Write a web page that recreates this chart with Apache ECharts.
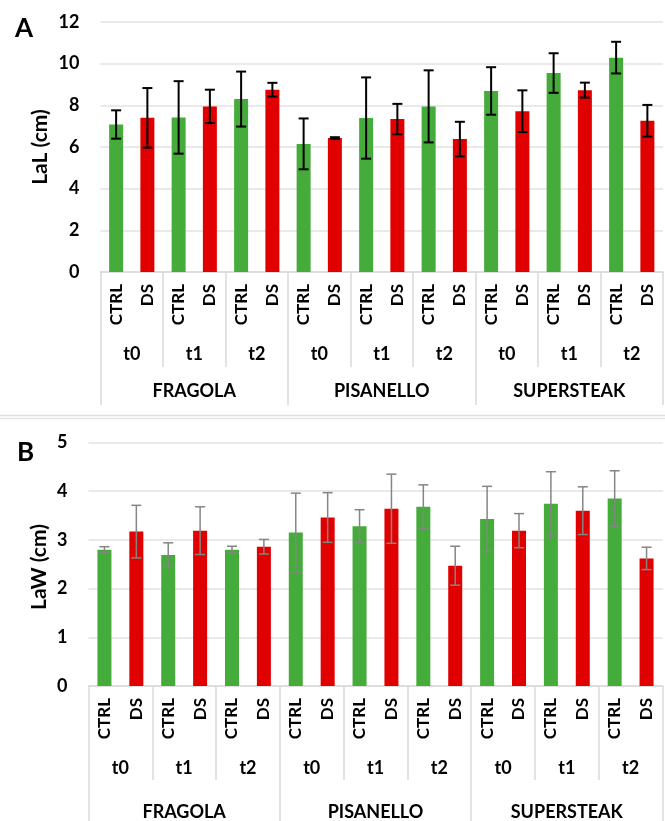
<!DOCTYPE html>
<html><head><meta charset="utf-8">
<script src="https://cdn.jsdelivr.net/npm/echarts@6/dist/echarts.min.js"></script>
<style>html,body{margin:0;padding:0;background:#fff}#c{width:665px;height:821px}</style>
</head><body><div id="c"></div>
<script>
const cultivars = ['FRAGOLA', 'PISANELLO', 'SUPERSTEAK'];
const times = ['t0', 't1', 't2'];
const treatments = ['CTRL', 'DS'];
const lalTicks = [0, 2, 4, 6, 8, 10, 12];
const lawTicks = [0, 1, 2, 3, 4, 5];
const lalTitle = 'LaL (cm)';
const lawTitle = 'LaW (cm)';
// order: cultivar > time > treatment (CTRL, DS)
const lalMean = [7.08, 7.40, 7.42, 7.95, 8.30, 8.75, 6.15, 6.43, 7.39, 7.34, 7.95, 6.38, 8.69, 7.72, 9.55, 8.73, 10.29, 7.26];
const lalErr  = [0.68, 1.43, 1.74, 0.80, 1.32, 0.33, 1.22, 0.04, 1.95, 0.73, 1.73, 0.83, 1.14, 1.00, 0.95, 0.36, 0.76, 0.76];
const lawMean = [2.80, 3.17, 2.69, 3.19, 2.80, 2.86, 3.15, 3.46, 3.28, 3.64, 3.68, 2.47, 3.43, 3.19, 3.74, 3.60, 3.85, 2.62];
const lawErr  = [0.06, 0.54, 0.25, 0.49, 0.07, 0.15, 0.81, 0.51, 0.34, 0.71, 0.45, 0.40, 0.67, 0.35, 0.66, 0.49, 0.57, 0.23];

const FONT = 'Lato';
const GREEN = '#45AB3B', RED = '#E00000', SEP = '#d9d9d9';
const colorOf = {CTRL: GREEN, DS: RED};

const lvl1 = [], lvl2 = [], lvl3 = [];
cultivars.forEach(c => {
  lvl3.push(c);
  times.forEach(t => {
    lvl2.push(c + '|' + t);
    treatments.forEach(tr => lvl1.push(c + '|' + t + '|' + tr));
  });
});
const last = s => s.split('|').pop();

function xAxes(gridIndex, tLen, cLen) {
  return [
    {type: 'category', gridIndex, position: 'bottom', data: lvl1,
     axisLine: {show: true, lineStyle: {color: SEP, width: 1.5}},
     axisTick: {show: false},
     axisLabel: {interval: 0, rotate: 90, margin: 12, formatter: last,
       fontFamily: FONT, fontSize: 17, fontWeight: 'bold', color: '#000'}},
    {type: 'category', gridIndex, position: 'bottom', data: lvl2,
     axisLine: {show: false},
     axisTick: {show: true, length: tLen, lineStyle: {color: SEP, width: 1.5}},
     axisLabel: {interval: 0, margin: 73, formatter: last,
       fontFamily: FONT, fontSize: 18, fontWeight: 'bold', color: '#000'}},
    {type: 'category', gridIndex, position: 'bottom', data: lvl3,
     axisLine: {show: false},
     axisTick: {show: true, length: cLen, lineStyle: {color: SEP, width: 1.5}},
     axisLabel: {interval: 0, margin: cLen - 23,
       fontFamily: FONT, fontSize: 18, fontWeight: 'bold', color: '#000'}}
  ];
}

function yAxis(gridIndex, ticks) {
  return {type: 'value', gridIndex, min: ticks[0], max: ticks[ticks.length - 1],
    interval: ticks[1] - ticks[0],
    axisLine: {show: false}, axisTick: {show: false},
    splitLine: {lineStyle: {color: '#e2e2e2', width: 1.5}},
    axisLabel: {margin: 21, fontFamily: FONT, fontSize: 18, fontWeight: 'bold', color: '#000'}};
}

function errRender(color, lw, half) {
  return function (params, api) {
    const x = api.value(0), m = api.value(1), e = api.value(2);
    const t = api.coord([x, m + e]), b = api.coord([x, m - e]);
    const st = {stroke: color, lineWidth: lw};
    return {type: 'group', children: [
      {type: 'line', shape: {x1: t[0], y1: t[1], x2: b[0], y2: b[1]}, style: st},
      {type: 'line', shape: {x1: t[0] - half, y1: t[1], x2: t[0] + half, y2: t[1]}, style: st},
      {type: 'line', shape: {x1: b[0] - half, y1: b[1], x2: b[0] + half, y2: b[1]}, style: st}
    ]};
  };
}

function barData(means) {
  return means.map((v, i) => ({value: v, itemStyle: {color: colorOf[last(lvl1[i])]}}));
}
function errData(means, errs) {
  return means.map((v, i) => [i, v, errs[i]]);
}
function vTitle(text, x, y) {
  return {type: 'text', x, y, rotation: Math.PI / 2,
    style: {text, fontFamily: FONT, fontSize: 21, fontWeight: 'bold', fill: '#000',
      align: 'center', verticalAlign: 'middle'}};
}

const option = {
  animation: false,
  backgroundColor: '#fff',
  title: [
    {text: 'A', left: 10, top: 11, textStyle: {fontFamily: FONT, fontSize: 26, fontWeight: 'bold', color: '#000'}},
    {text: 'B', left: 12, top: 435, textStyle: {fontFamily: FONT, fontSize: 26, fontWeight: 'bold', color: '#000'}}
  ],
  graphic: [
    {type: 'line', shape: {x1: 0, y1: 415.5, x2: 665, y2: 415.5}, style: {stroke: '#e0e0e0', lineWidth: 1.5}},
    {type: 'line', shape: {x1: 0, y1: 418.5, x2: 665, y2: 418.5}, style: {stroke: '#e6e6e6', lineWidth: 1.5}},
    vTitle(lalTitle, 40, 147),
    vTitle(lawTitle, 39, 567)
  ],
  grid: [
    {left: 100.5, right: 2, top: 22, bottom: 549},
    {left: 88.5, right: 2.5, top: 442.5, bottom: 128.5}
  ],
  xAxis: [...xAxes(0, 95, 133), ...xAxes(1, 94, 140)],
  yAxis: [yAxis(0, lalTicks), yAxis(1, lawTicks)],
  series: [
    {type: 'bar', xAxisIndex: 0, yAxisIndex: 0, barWidth: 14, data: barData(lalMean)},
    {type: 'custom', xAxisIndex: 0, yAxisIndex: 0, renderItem: errRender('#000', 2, 5), data: errData(lalMean, lalErr), z: 5},
    {type: 'bar', xAxisIndex: 3, yAxisIndex: 1, barWidth: 14, data: barData(lawMean)},
    {type: 'custom', xAxisIndex: 3, yAxisIndex: 1, renderItem: errRender('#858585', 1.5, 5), data: errData(lawMean, lawErr), z: 5}
  ]
};
const chart = echarts.init(document.getElementById('c'), null, {renderer: 'canvas'});
chart.setOption(option);
</script></body></html>
